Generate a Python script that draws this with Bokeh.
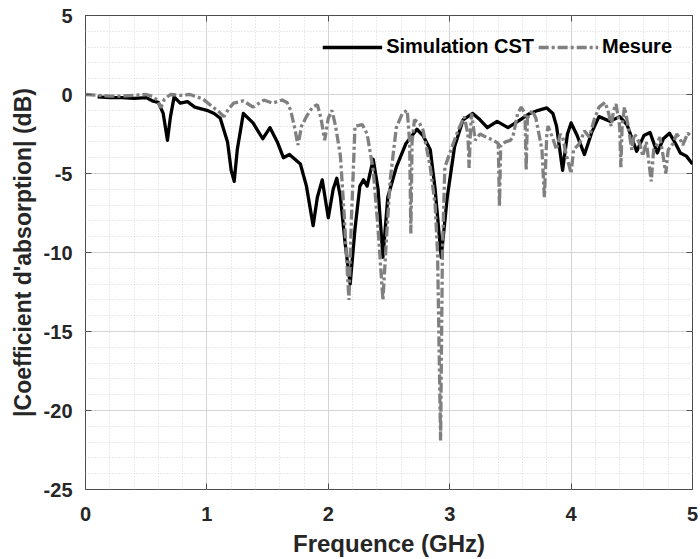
from bokeh.plotting import figure
from bokeh.models import (Range1d, SingleIntervalTicker, LinearAxis, Legend, LegendItem,
                          NumeralTickFormatter)
from bokeh.embed import file_html
from bokeh.resources import INLINE

# ---- data ----
sim_f = [0.10, 0.20, 0.30, 0.40, 0.50, 0.55, 0.60, 0.64, 0.675, 0.70, 0.73, 0.78, 0.84, 0.90,
         1.00, 1.06, 1.11, 1.17, 1.20, 1.225, 1.25, 1.30, 1.38, 1.46, 1.52, 1.58, 1.63, 1.68,
         1.77, 1.82, 1.875, 1.91, 1.95, 2.00, 2.04, 2.07, 2.10, 2.14, 2.18, 2.22, 2.26, 2.29,
         2.32, 2.37, 2.41, 2.45, 2.49, 2.56, 2.64, 2.73, 2.78, 2.84, 2.88, 2.93, 2.98, 3.04,
         3.11, 3.19, 3.25, 3.31, 3.39, 3.48, 3.58, 3.66, 3.73, 3.80, 3.85, 3.88, 3.93, 3.97,
         4.00, 4.05, 4.11, 4.17, 4.23, 4.32, 4.40, 4.46, 4.54, 4.60, 4.65, 4.71, 4.76, 4.81,
         4.86, 4.90, 4.95, 5.00]
sim_db = [-0.15, -0.2, -0.2, -0.25, -0.2, -0.4, -0.5, -1.2, -2.9, -1.4, -0.15, -0.55, -0.45, -0.8,
          -1.0, -1.2, -1.5, -3.0, -4.8, -5.5, -3.5, -1.2, -1.8, -2.8, -2.1, -3.0, -4.0, -3.8,
          -4.4, -5.8, -8.3, -6.5, -5.4, -7.8, -6.0, -5.3, -6.5, -9.5, -12.0, -8.5, -5.8, -5.4,
          -5.8, -4.1, -6.0, -10.3, -6.5, -4.6, -3.1, -2.2, -2.6, -3.5, -6.0, -10.3, -6.5, -3.3,
          -1.6, -1.2, -1.6, -2.1, -1.7, -2.1, -1.6, -1.2, -1.0, -0.85, -1.2, -2.0, -4.8, -2.5,
          -1.8, -2.6, -3.8, -2.4, -1.4, -1.7, -1.4, -1.9, -3.6, -2.6, -2.4, -3.7, -2.8, -2.45,
          -3.1, -3.7, -3.9, -4.4]

mes_f = [0.00, 0.10, 0.20, 0.30, 0.40, 0.50, 0.55, 0.59, 0.62, 0.65, 0.70, 0.78, 0.86, 0.92,
         0.97, 1.05, 1.10, 1.14, 1.18, 1.22, 1.30, 1.38, 1.47, 1.54, 1.62, 1.66, 1.69, 1.72,
         1.75, 1.78, 1.82, 1.87, 1.91, 1.94, 1.97, 2.00, 2.03, 2.06, 2.10, 2.13, 2.17, 2.19,
         2.22, 2.28, 2.32, 2.37, 2.41, 2.45, 2.48, 2.51, 2.56, 2.61, 2.65, 2.67, 2.68, 2.69,
         2.71, 2.75, 2.78, 2.84, 2.88, 2.90, 2.925, 2.94, 2.96, 3.02, 3.07, 3.12, 3.15, 3.16,
         3.17, 3.18, 3.21, 3.25, 3.30, 3.36, 3.40, 3.41, 3.42, 3.46, 3.50, 3.52, 3.56, 3.59,
         3.62, 3.63, 3.64, 3.68, 3.71, 3.74, 3.76, 3.78, 3.80, 3.81, 3.85, 3.88, 3.91, 3.93,
         3.96, 4.00, 4.02, 4.07, 4.11, 4.15, 4.19, 4.23, 4.28, 4.31, 4.33, 4.35, 4.37, 4.40,
         4.41, 4.42, 4.44, 4.47, 4.50, 4.52, 4.54, 4.57, 4.59, 4.62, 4.66, 4.68, 4.70, 4.73,
         4.75, 4.78, 4.80, 4.84, 4.87, 4.89, 4.92, 4.96, 5.00]
mes_db = [0.0, -0.05, -0.1, -0.1, -0.05, 0.0, -0.1, -0.35, -0.85, -0.3, 0.0, -0.05, 0.0, -0.15,
          -0.3, -0.8, -1.1, -1.4, -0.9, -0.55, -0.4, -0.8, -0.35, -0.55, -0.35, -0.5, -1.0, -2.0,
          -3.2, -2.0, -1.4, -0.8, -0.65, -1.5, -2.9, -1.5, -1.0, -2.0, -3.9, -7.5, -13.0, -8.0,
          -2.0, -1.9, -2.5, -4.8, -8.5, -13.0, -9.0, -5.4, -2.1, -1.2, -1.0, -3.0, -8.8, -3.0,
          -1.6, -1.8, -2.25, -4.6, -7.0, -10.0, -21.9, -10.0, -4.6, -3.3, -2.25, -1.4, -2.5, -4.65,
          -2.5, -1.2, -2.9, -2.5, -2.7, -2.9, -3.1, -7.1, -3.2, -3.0, -2.9, -2.7, -1.2, -0.8,
          -1.2, -4.8, -1.5, -1.0, -1.5, -2.7, -3.5, -6.5, -2.5, -2.0, -2.8, -3.5, -2.5, -2.7,
          -3.8, -5.0, -3.5, -3.1, -2.3, -2.7, -1.6, -0.8, -0.5, -1.2, -2.0, -1.0, -0.6, -2.0,
          -4.6, -2.0, -0.8, -2.0, -3.5, -2.5, -2.7, -3.2, -3.9, -3.0, -5.5, -3.5, -3.3, -2.7,
          -3.5, -5.0, -3.5, -3.1, -2.5, -2.7, -3.2, -2.45, -2.7]

x_label = "Frequence (GHz)"
y_label = "|Coefficient d'absorption| (dB)"
series_names = ["Simulation CST", "Mesure"]

FONT = "Liberation Sans"
TXT = "#262626"
AX = "#4d4d4d"

p = figure(width=700, height=559, output_backend="svg", toolbar_location=None,
           x_range=Range1d(0, 5), y_range=Range1d(-25, 5),
           min_border_left=85, min_border_right=8, min_border_top=15, min_border_bottom=68,
           x_axis_location=None, y_axis_location=None)
p.background_fill_color = "white"
p.border_fill_color = "white"
p.outline_line_color = AX
p.outline_line_width = 1
p.outline_line_alpha = 1

xt = SingleIntervalTicker(interval=1, num_minor_ticks=5)
yt = SingleIntervalTicker(interval=5, num_minor_ticks=5)

def style_axis(ax):
    ax.axis_line_color = None
    ax.major_tick_in = 6
    ax.major_tick_out = 0
    ax.major_tick_line_color = AX
    ax.minor_tick_line_color = None
    ax.formatter = NumeralTickFormatter(format="0")
    ax.major_label_text_font = FONT
    ax.major_label_text_font_style = "bold"
    ax.major_label_text_font_size = "20px"
    ax.major_label_text_color = TXT
    ax.axis_label_text_font = FONT
    ax.axis_label_text_font_style = "bold"
    ax.axis_label_text_color = TXT

xb = LinearAxis(ticker=xt, axis_label=x_label)
style_axis(xb)
xb.axis_label_text_font_size = "24px"
xb.major_label_standoff = 13
xb.axis_label_standoff = 6
p.add_layout(xb, "below")

yl = LinearAxis(ticker=yt, axis_label=y_label)
style_axis(yl)
yl.axis_label_text_font_size = "23px"
yl.major_label_standoff = 9
yl.axis_label_standoff = 5
p.add_layout(yl, "left")

# tick marks only (no labels) on the top and right edges of the box
for ax, side in ((LinearAxis(ticker=xt), "above"), (LinearAxis(ticker=yt), "right")):
    style_axis(ax)
    ax.major_label_text_font_size = "1px"
    ax.major_label_text_color = None
    ax.major_label_standoff = 0
    ax.axis_label_standoff = 0
    p.add_layout(ax, side)

p.xgrid.ticker = xt
p.ygrid.ticker = yt
for g in (p.xgrid[0], p.ygrid[0]):
    g.grid_line_color = "#d4d4d4"
    g.grid_line_width = 1
    g.minor_grid_line_color = "#d6d6d6"
    g.minor_grid_line_dash = "1 2"
    g.minor_grid_line_width = 1

r_sim = p.line(sim_f, sim_db, line_color="black", line_width=3.3, line_join="round")
r_mes = p.line(mes_f, mes_db, line_color="#808080", line_width=3.3, line_dash="10 3 3 3")

legend = Legend(items=[LegendItem(label=series_names[0], renderers=[r_sim]),
                       LegendItem(label=series_names[1], renderers=[r_mes])],
                orientation="horizontal", location="top_right")
legend.background_fill_alpha = 0
legend.border_line_color = None
legend.label_text_font = FONT
legend.label_text_font_style = "bold"
legend.label_text_font_size = "20px"
legend.label_text_color = "black"
legend.glyph_width = 60
legend.glyph_height = 20
legend.label_standoff = 4
legend.spacing = 4
legend.padding = 2
legend.margin = 20
p.add_layout(legend, "center")

open("out.html", "w").write(file_html(p, INLINE))
